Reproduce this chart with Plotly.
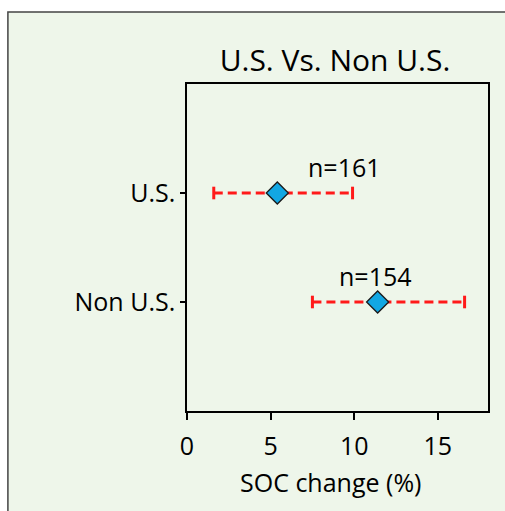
import plotly.graph_objects as go

# ---- data ----
categories = ["U.S.", "Non U.S."]
means = [5.4, 11.4]
lower = [1.6, 7.5]
upper = [9.9, 16.6]
n_labels = ["n=161", "n=154"]
x_ticks = [0, 5, 10, 15]

FONT = "Open Sans"
RED = "#ff1a1a"
ypos = list(range(len(categories)))

fig = go.Figure()

# dashed CI lines with caps
for i, cat in enumerate(categories):
    fig.add_trace(go.Scatter(
        x=[lower[i], upper[i]], y=[ypos[i], ypos[i]], mode="lines",
        line=dict(color=RED, width=3, dash="9px,5px"),
        showlegend=False, hoverinfo="skip"))
    fig.add_trace(go.Scatter(
        x=[lower[i], upper[i]], y=[ypos[i], ypos[i]], mode="markers",
        marker=dict(symbol="line-ns", size=9, line=dict(color=RED, width=3)),
        showlegend=False, hoverinfo="skip"))

fig.add_trace(go.Scatter(
    x=means, y=ypos, mode="markers",
    marker=dict(symbol="diamond", size=17, color="#12a7e3",
                line=dict(color="#1a1a1a", width=1.3)),
    showlegend=False))

label_x = [9.4, 11.3]
for i, lab in enumerate(n_labels):
    fig.add_annotation(x=label_x[i], y=ypos[i], text=lab, showarrow=False,
                       yshift=26, font=dict(family=FONT, size=25, color="black"))

# x-axis title as annotation (centred slightly left of plot centre, as in reference)
fig.add_annotation(xref="paper", yref="paper", x=(330 - 187) / 301, y=(411 - 482) / 327,
                   text="SOC change (%)", showarrow=False, xanchor="center",
                   yanchor="middle", font=dict(family=FONT, size=25, color="black"))

# outer frame
fig.add_shape(type="rect", xref="paper", yref="paper",
              x0=-0.595, x1=1.2, y0=-0.4, y1=1.220,
              line=dict(color="#444444", width=1.5),
              fillcolor="#eef6ea", layer="below")

fig.update_layout(
    width=505, height=511,
    margin=dict(l=187, r=17, t=84, b=100),
    paper_bgcolor="white", plot_bgcolor="rgba(0,0,0,0)",
    font=dict(family=FONT, size=25, color="black"),
    title=dict(text="U.S. Vs. Non U.S.", x=335 / 505, xanchor="center",
               y=1 - 60 / 511, yanchor="middle",
               font=dict(family=FONT, size=30, color="black")),
    xaxis=dict(range=[0, 18], tickvals=x_ticks, ticks="outside", ticklen=7,
               tickwidth=1.5, tickcolor="black", showline=True, linecolor="black",
               linewidth=1.5, mirror=True, showgrid=False, zeroline=False,
               ticklabelstandoff=5,
               tickfont=dict(family=FONT, size=25)),
    yaxis=dict(range=[2, -1], tickvals=ypos, ticktext=categories, ticks="outside",
               ticklen=5, tickwidth=1.5, tickcolor="black", showline=True,
               linecolor="black", linewidth=1.5, mirror=True, showgrid=False,
               zeroline=False, tickfont=dict(family=FONT, size=25)),
)

fig.write_html("out.html")
